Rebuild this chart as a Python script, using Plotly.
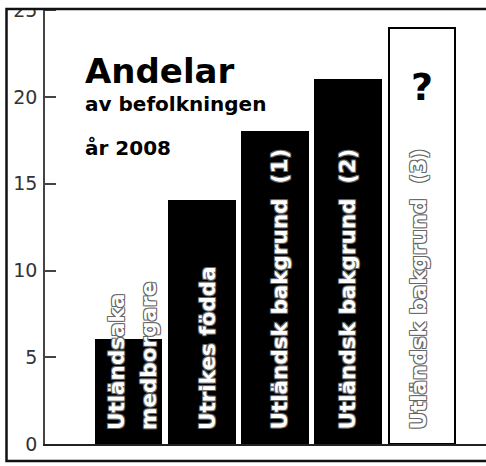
import plotly.graph_objects as go

# ---- data ----
categories = ["Utländska medborgare", "Utrikes födda", "Utländsk bakgrund (1)",
              "Utländsk bakgrund (2)", "Utländsk bakgrund (3)"]
values = [6, 14, 18, 21, 24]
bar_colors = ["black", "black", "black", "black", "white"]
y_ticks = [0, 5, 10, 15, 20, 25]

W, H = 486, 466
L, R, T, B = 45, 0, 9, 22
pw, ph = W - L - R, H - T - B

def xp(px):
    return (px - L) / pw

def yp(py):
    return (H - B - py) / ph

x_idx = list(range(len(values)))

fig = go.Figure()
fig.add_trace(go.Bar(
    x=x_idx, y=values, width=0.9,
    marker=dict(color=bar_colors, line=dict(color="black", width=2)),
    hoverinfo="skip",
))

outline = "-1px -1px 0 #666, 1px -1px 0 #666, -1px 1px 0 #666, 1px 1px 0 #666"
bold = "DejaVu Sans"

annotations = [
    dict(text="<b>Andelar</b>", x=xp(83), y=yp(71), xanchor="left", yanchor="middle",
         font=dict(family=bold, size=34, color="black")),
    dict(text="<b>av befolkningen</b>", x=xp(83), y=yp(104), xanchor="left", yanchor="middle",
         font=dict(family=bold, size=20, color="black")),
    dict(text="<b>år 2008</b>", x=xp(83), y=yp(148), xanchor="left", yanchor="middle",
         font=dict(family=bold, size=20, color="black")),
    dict(text="<b>?</b>", x=xp(422), y=yp(87), xanchor="center", yanchor="middle",
         font=dict(family=bold, size=38, color="black")),
]

label_specs = [
    ("Utländsaka", 116),
    ("medborgare", 148),
    ("Utrikes födda", 207),
    ("Utländsk bakgrund \u00a0(1)", 279),
    ("Utländsk bakgrund \u00a0(2)", 347),
    ("Utländsk bakgrund \u00a0(3)", 418),
]
for txt, cx in label_specs:
    annotations.append(dict(
        text="<b>" + txt + "</b>", x=xp(cx), y=yp(432), xanchor="center", yanchor="bottom",
        textangle=-90, font=dict(family=bold, size=21.5, color="white", shadow=outline),
    ))

for a in annotations:
    a.update(xref="paper", yref="paper", showarrow=False)

fig.update_layout(
    width=W, height=H,
    margin=dict(l=L, r=R, t=T, b=B, pad=0),
    paper_bgcolor="white", plot_bgcolor="white",
    showlegend=False,
    bargap=0,
    annotations=annotations,
    xaxis=dict(range=[-1.14, 4.88], showticklabels=False, ticks="", showgrid=False,
               zeroline=False, showline=True, linecolor="#222", linewidth=1.5,
               fixedrange=True),
    yaxis=dict(range=[0, (H - B - T) / 17.35], tickvals=y_ticks, ticks="inside",
               ticklen=11, tickwidth=1.5, tickcolor="#444", showgrid=False,
               zeroline=False, showline=True, linecolor="#444", linewidth=1.5,
               tickfont=dict(family="DejaVu Sans", size=19, color="#333"),
               ticklabelstandoff=2, ticklabeloverflow="allow", fixedrange=True),
    shapes=[
        dict(type="rect", xref="paper", yref="paper", x0=-0.2, x1=1.2,
             y0=1, y1=1.2, fillcolor="white", line=dict(width=0), layer="above"),
        dict(type="rect", xref="paper", yref="paper",
             x0=xp(6.5), x1=xp(495), y0=yp(461), y1=yp(9),
             line=dict(color="#111", width=2.5), fillcolor="rgba(0,0,0,0)", layer="above"),
    ],
)

fig.write_html("out.html", config={"displayModeBar": False},
               post_script="document.body.style.margin='0';document.body.style.padding='0';")
